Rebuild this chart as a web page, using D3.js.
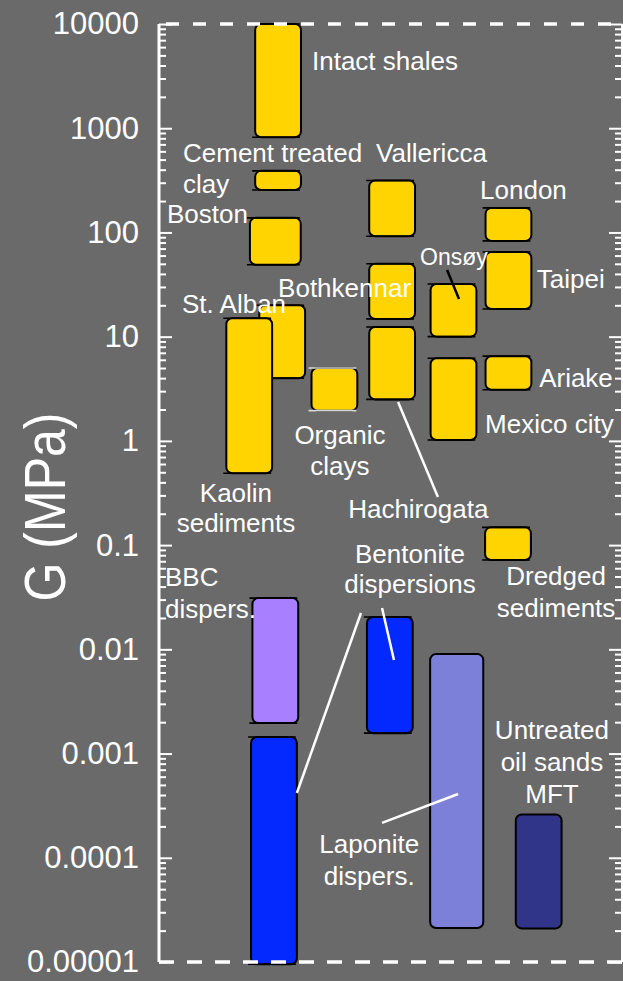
<!DOCTYPE html>
<html><head><meta charset="utf-8">
<script src="https://cdn.jsdelivr.net/npm/d3@7"></script>
<style>body{margin:0;background:#6a6a6a;} svg{display:block;}</style>
</head><body><svg id="c" width="623" height="981"></svg>
<script>
// ---- data ----
const materials = ["Intact shales","Cement treated clay","Boston","BBC dispers.","Bentonite dispersions (a)","St. Alban","Kaolin sediments","Organic clays","Vallericca","Bothkennar","Hachirogata","Bentonite dispersions (b)","Onsøy","Mexico city","Laponite dispers.","London","Taipei","Ariake","Dredged sediments","Untreated oil sands MFT"];
const slots = [2.60,2.60,2.54,2.54,2.51,2.69,1.97,3.83,5.09,5.09,5.09,5.04,6.43,6.43,6.50,7.63,7.63,7.63,7.62,8.29];
const gMax = [10000,390,138,0.031,0.00144,20,15,5,315,50,12.4,0.0204,32,6.2,0.009,172,65,6.5,0.148,0.00026];
const gMin = [820,255,49,0.00196,0.0000095,4,0.49,1.95,92,14.8,2.5,0.00157,10,1.02,0.0000212,83,18.4,3.1,0.072,0.000021];
const kinds = ["soil","soil","soil","bbc","bentonite","soil","soil","soil","soil","soil","soil","bentonite","soil","soil","laponite","soil","soil","soil","soil","mft"];
const tickLabels = ["0.00001","0.0001","0.001","0.01","0.1","1","10","100","1000","10000"];

// labels: text, x (slot units), y (G value at baseline), anchor
const labelText = ["Intact shales","Cement treated","clay","Boston","Vallericca","London","Onsøy","Taipei","Bothkennar","St. Alban","Ariake","Mexico city","Organic","clays","Kaolin","sediments","Hachirogata","Bentonite","dispersions","BBC","dispers.","Dredged","sediments","Untreated","oil sands","MFT","Laponite","dispers."];
const labelX = [3.34,0.524,0.524,0.175,4.74,7.01,5.70,8.25,2.60,0.502,8.30,7.12,3.95,3.95,1.68,1.68,4.13,5.48,5.48,0.131,0.131,8.67,8.67,8.58,8.58,8.58,4.59,4.59];
const labelY = [3620,474,239,123,474,209,48.7,29.3,24.0,16.9,3.29,1.19,0.933,0.471,0.259,0.134,0.182,0.0673,0.0347,0.0405,0.0200,0.0413,0.0204,0.00138,0.00068,0.000335,0.000111,0.0000548];
const labelAnchor = ["start","start","start","start","start","start","start","start","start","start","start","start","middle","middle","middle","middle","start","middle","middle","start","start","middle","middle","middle","middle","middle","middle","middle"];

// leader lines: [x1, g1, x2, g2, colour]
const leaders = [
  [6.29, 43.6, 6.55, 23, "black"],
  [5.22, 2.36, 6.09, 0.29, "white"],
  [4.41, 0.0223, 3.01, 0.000418, "white"],
  [4.87, 0.0249, 5.13, 0.0079, "white"],
  [4.87, 0.000216, 6.53, 0.000409, "white"]
];

// ---- styles ----
const W = 623, H = 981;
const bg = "#6a6a6a";
const colorOf = d3.scaleOrdinal().domain(["soil","bbc","bentonite","laponite","mft"])
  .range(["#ffd400","#a880ff","#0429ff","#7d80d8","#30358a"]);
const widthOf = {"Boston":1.11, "Laponite dispers.":1.16};
const font = "'Liberation Sans', Arial, Helvetica, sans-serif";

const svg = d3.select("#c");
svg.append("rect").attr("width",W).attr("height",H).attr("fill",bg);

const x = d3.scaleLinear().domain([0,10]).range([159,617]);
const y = d3.scaleLog().domain([1e-5,1e4]).range([962,24]);

const data = materials.map((m,i)=>({name:m, slot:slots[i], hi:gMax[i], lo:gMin[i], kind:kinds[i], w:(widthOf[m]||1)}));
const px = d => x(d.slot) - (x(d.w)-x(0))/2;
const pw = d => x(d.w)-x(0);

// bars with their caps, drawn in order
const barG = svg.append("g").selectAll("g").data(data).join("g");
barG.append("rect")
  .attr("x", px).attr("width", pw)
  .attr("y", d=>y(d.hi)).attr("height", d=>y(d.lo)-y(d.hi))
  .attr("rx",6).attr("ry",6)
  .attr("fill", d=>colorOf(d.kind))
  .attr("stroke","#000").attr("stroke-width",2);
barG.filter(d=>d.kind!=="laponite" && d.kind!=="mft")
  .selectAll("line").data(d=>[[d,d.hi],[d,d.lo]]).join("line")
  .attr("x1", e=>px(e[0])-3).attr("x2", e=>px(e[0])+pw(e[0])-1)
  .attr("y1", e=>y(e[1])).attr("y2", e=>y(e[1]))
  .attr("stroke", e=> e[0].name==="Organic clays" ? "#d8d8d8" : "#000")
  .attr("stroke-width",1.6);

// leader lines
svg.append("g").selectAll("line").data(leaders).join("line")
  .attr("x1",d=>x(d[0])).attr("y1",d=>y(d[1]))
  .attr("x2",d=>x(d[2])).attr("y2",d=>y(d[3]))
  .attr("stroke",d=>d[4]).attr("stroke-width",2.5);

// labels
svg.append("g").selectAll("text").data(labelText).join("text")
  .attr("x",(d,i)=>x(labelX[i])).attr("y",(d,i)=>y(labelY[i]))
  .attr("text-anchor",(d,i)=>labelAnchor[i])
  .attr("font-family",font)
  .attr("font-size",d=>d==="Onsøy"?23:26)
  .attr("fill","#fff")
  .text(d=>d);

// axes
const majors = d3.range(-5,5).map(e=>Math.pow(10,e));
const minors = [];
for (let e=-5;e<4;e++) for (let k=2;k<10;k++) minors.push(k*Math.pow(10,e));

function styleAxis(g){
  g.select(".domain").remove();
  g.selectAll(".tick line").attr("stroke","#fff").attr("stroke-width",2);
  g.selectAll(".tick text").attr("fill","#fff").attr("font-family",font).attr("font-size",31);
}
const leftMaj = svg.append("g").attr("transform",`translate(${x(0)},0)`)
  .call(d3.axisLeft(y).tickValues(majors).tickSizeInner(-13).tickSizeOuter(0).tickPadding(20)
    .tickFormat((d,i)=>tickLabels[i]));
styleAxis(leftMaj);
const leftMin = svg.append("g").attr("transform",`translate(${x(0)},0)`)
  .call(d3.axisLeft(y).tickValues(minors).tickSizeInner(-7).tickSizeOuter(0).tickFormat(""));
styleAxis(leftMin);
const rightX = 622;
const rightMaj = svg.append("g").attr("transform",`translate(${rightX},0)`)
  .call(d3.axisRight(y).tickValues(majors).tickSizeInner(-13).tickSizeOuter(0).tickFormat(""));
styleAxis(rightMaj);
const rightMin = svg.append("g").attr("transform",`translate(${rightX},0)`)
  .call(d3.axisRight(y).tickValues(minors).tickSizeInner(-7).tickSizeOuter(0).tickFormat(""));
styleAxis(rightMin);

// axis lines and dashed frame
svg.append("line").attr("x1",x(0)).attr("x2",x(0)).attr("y1",y(1e4)).attr("y2",y(1e-5))
  .attr("stroke","#fff").attr("stroke-width",3);
svg.append("line").attr("x1",rightX).attr("x2",rightX).attr("y1",y(1e4)).attr("y2",y(1e-5))
  .attr("stroke","#fff").attr("stroke-width",2);
svg.append("line").attr("x1",x(0)).attr("x2",rightX).attr("y1",y(1e4)).attr("y2",y(1e4))
  .attr("stroke","#fff").attr("stroke-width",3.5).attr("stroke-dasharray","13,14").attr("stroke-dashoffset",20);
svg.append("line").attr("x1",x(0)).attr("x2",rightX).attr("y1",y(1e-5)).attr("y2",y(1e-5))
  .attr("stroke","#fff").attr("stroke-width",3.5).attr("stroke-dasharray","15,13");

// y title
svg.append("text").attr("transform",`translate(65,${(y(1e-5)+y(1e4))/2+14}) rotate(-90)`)
  .attr("text-anchor","middle").attr("font-family",font).attr("font-size",58)
  .attr("textLength",189).attr("lengthAdjust","spacingAndGlyphs")
  .attr("fill","#fff").text("G (MPa)");
</script></body></html>
